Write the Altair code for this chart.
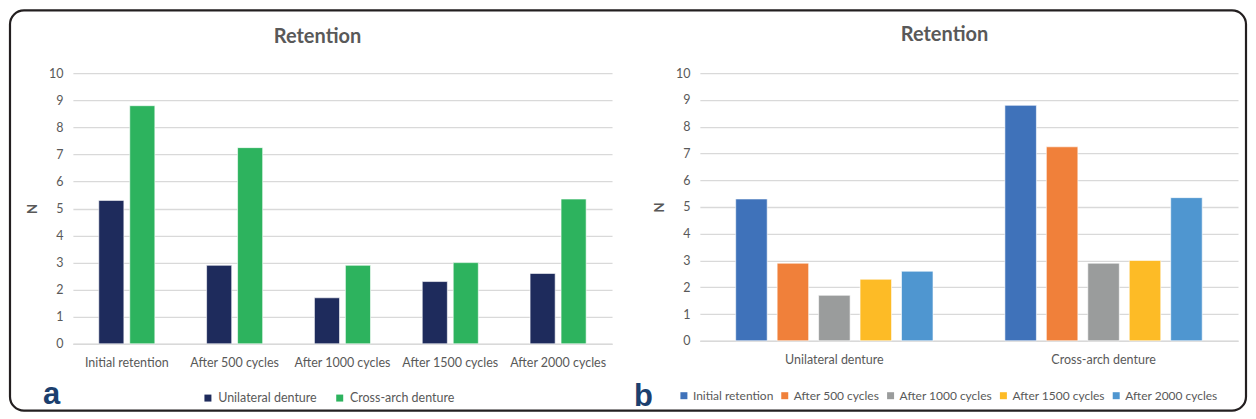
import altair as alt
import pandas as pd

# ---------------- data ----------------
cycles = ["Initial retention", "After 500 cycles", "After 1000 cycles",
          "After 1500 cycles", "After 2000 cycles"]
dentures = ["Unilateral denture", "Cross-arch denture"]
unilateral = [5.3, 2.9, 1.7, 2.3, 2.6]
cross_arch = [8.8, 7.25, 2.9, 3.0, 5.35]
y_ticks = [0, 1, 2, 3, 4, 5, 6, 7, 8, 9, 10]
panel_title = "Retention"
y_title = "N"
panel_labels = ["a", "b"]

colors_a = ["#1E2B5C", "#2DB35E"]
colors_b = ["#3F72BA", "#F0803A", "#9A9C9C", "#FDBB26", "#4F96D0"]

rows = []
for i, c in enumerate(cycles):
    rows.append({"cycle": c, "denture": dentures[0], "value": unilateral[i]})
    rows.append({"cycle": c, "denture": dentures[1], "value": cross_arch[i]})
df = pd.DataFrame(rows)
one = pd.DataFrame({"k": [0]})

# ---------------- style ----------------
FONT = "Lato"
FS = 12.5
GRID = "#D9D9D9"
TXT = "#595959"
LBL = "#1C3F6E"
W_A, H_A = 540, 271
W_B, H_B = 539, 268


def y_enc():
    return alt.Y(
        "value:Q",
        scale=alt.Scale(domain=[0, 10], nice=False, zero=True),
        axis=alt.Axis(values=y_ticks, title=y_title, domain=False, ticks=False,
                      labelPadding=10, labelFontSize=FS, labelColor=TXT,
                      labelFont=FONT, gridColor=GRID, gridWidth=1.3,
                      titleFontSize=13, titleFont=FONT, titleColor=TXT,
                      titleFontWeight="bold", titlePadding=9),
    )


def x_axis():
    return alt.Axis(title=None, labelAngle=0, ticks=False, grid=False,
                    domainColor=GRID, domainWidth=1.5, labelPadding=13,
                    labelFontSize=FS, labelColor=TXT, labelFont=FONT,
                    labelLimit=300)


def legend(lx, ly, colpad, fs, off):
    return alt.Legend(orient="none", legendX=lx, legendY=ly,
                      direction="horizontal", title=None, labelFontSize=fs,
                      labelColor=TXT, labelFont=FONT, symbolType="square",
                      symbolSize=49, symbolStrokeWidth=0, labelOffset=off,
                      columnPadding=colpad, padding=0)


# ---------------- panel a ----------------
bars_a = alt.Chart(df).mark_bar(stroke="white", strokeWidth=0.6).encode(
    x=alt.X("cycle:N", sort=cycles,
            scale=alt.Scale(paddingInner=0.48, paddingOuter=0.24),
            axis=x_axis()),
    xOffset=alt.XOffset("denture:N", sort=dentures,
                        scale=alt.Scale(paddingInner=0.19, paddingOuter=0)),
    y=y_enc(),
    color=alt.Color("denture:N", sort=dentures,
                    scale=alt.Scale(domain=dentures, range=colors_a),
                    legend=legend(129, 319, 16, FS, 4)),
)

border = alt.Chart(one).mark_rect(
    filled=False, stroke="#231F20", strokeWidth=2.2, cornerRadius=14
).encode(x=alt.value(-63), x2=alt.value(1175), y=alt.value(-63), y2=alt.value(338))

title_a = alt.Chart(one).mark_text(
    text=panel_title, fontSize=20, fontWeight="bold", color=TXT, font=FONT,
    align="center", baseline="middle"
).encode(x=alt.value(245), y=alt.value(-36))

label_a = alt.Chart(one).mark_text(
    text=panel_labels[0], fontSize=31, fontWeight="bold", color=LBL,
    font="Liberation Sans", align="left", baseline="alphabetic"
).encode(x=alt.value(-30), y=alt.value(331))

panel_a = alt.layer(border, bars_a, title_a, label_a).properties(width=W_A, height=H_A)

# ---------------- panel b ----------------
bars_b = alt.Chart(df).mark_bar(stroke="white", strokeWidth=0.6).encode(
    x=alt.X("denture:N", sort=dentures,
            scale=alt.Scale(paddingInner=0.267, paddingOuter=0.133),
            axis=x_axis()),
    xOffset=alt.XOffset("cycle:N", sort=cycles,
                        scale=alt.Scale(paddingInner=0.24, paddingOuter=0)),
    y=y_enc(),
    color=alt.Color("cycle:N", sort=cycles,
                    scale=alt.Scale(domain=cycles, range=colors_b),
                    legend=legend(-22, 317, 5, 12, 3)),
)

title_b = alt.Chart(one).mark_text(
    text=panel_title, fontSize=20, fontWeight="bold", color=TXT, font=FONT,
    align="center", baseline="middle"
).encode(x=alt.value(245), y=alt.value(-38))

label_b = alt.Chart(one).mark_text(
    text=panel_labels[1], fontSize=31, fontWeight="bold", color=LBL,
    font="Liberation Sans", align="left", baseline="alphabetic"
).encode(x=alt.value(-66), y=alt.value(333))

panel_b = alt.layer(bars_b, title_b, label_b).properties(width=W_B, height=H_B)

chart = (
    alt.hconcat(panel_a, panel_b, spacing=88, bounds="flush")
    .resolve_scale(x="independent", xOffset="independent", color="independent")
    .resolve_legend(color="independent")
    .properties(padding=0, background="white")
    .configure_view(stroke=None)
)

chart.save("out.html", embed_options={"renderer": "svg", "actions": False})
